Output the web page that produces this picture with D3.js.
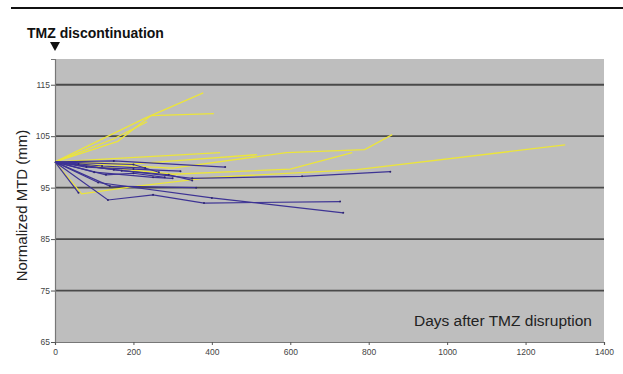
<!DOCTYPE html>
<html>
<head>
<meta charset="utf-8">
<script src="https://cdn.jsdelivr.net/npm/d3@7"></script>
<style>
body{margin:0;background:#fff;}
svg{display:block;font-family:"Liberation Sans",Arial,sans-serif;}
</style>
</head>
<body>
<div id="chart"></div>
<script>
// tick values
var yTicks=[65,75,85,95,105,115];
var xTicks=[0,200,400,600,800,1000,1200,1400];

// yellow series (days, normalized MTD)
var yellowSeries=[
    [[0,100],[230,108.5],[378,113.4]],
    [[0,100],[160,104],[245,109],[405,109.4]],
    [[0,100],[150,104.5],[235,107.8]],
    [[0,100],[421,101.8]],
    [[0,100],[200,99.6],[515,101.4]],
    [[0,100],[300,98.8],[590,101.8],[790,102.4],[860,105.3]],
    [[0,100],[300,97.6],[600,98.6],[758,101.8]],
    [[0,100],[68,93.8],[200,95.2],[400,97],[770,98.5],[1301,103.3]]
];

// blue series
var blueSeries=[
    [[0,100],[150,98.5],[350,96.8],[630,97.2],[855,98.1]],
    [[0,100],[135,92.6],[250,93.6],[380,92],[727,92.3]],
    [[0,100],[110,96],[400,93],[735,90.1]],
    [[0,100],[150,100.2],[434,99]],
    [[0,100],[60,94]],
    [[0,100],[140,95.3],[360,95]],
    [[0,100],[100,98],[250,97],[300,96.8]],
    [[0,100],[170,98.3],[290,97.5],[350,96.4]],
    [[0,100],[200,99.5],[265,98]],
    [[0,100],[130,97.5],[200,97.8],[280,97]],
    [[0,100],[80,99],[200,98.6],[320,98.2]],
    [[0,100],[60,99.6],[120,99.2],[230,98.8]]
];

var width=623,height=374;
var plot={left:55,top:59,right:604,bottom:342};

var svg=d3.select("#chart").append("svg")
    .attr("width",width).attr("height",height);

var x=d3.scaleLinear().domain([0,1400]).range([plot.left,plot.right]);
var y=d3.scaleLinear().domain([65,120]).range([plot.bottom,plot.top]);

// top rule
svg.append("line")
    .attr("x1",11).attr("x2",623).attr("y1",8).attr("y2",8)
    .attr("stroke","#111").attr("stroke-width",2);

svg.append("text")
    .attr("x",27).attr("y",38)
    .attr("font-size",14).attr("font-weight","bold").attr("fill","#111")
    .attr("font-family","Arial,'Liberation Sans',sans-serif")
    .text("TMZ discontinuation");

svg.append("path")
    .attr("d","M"+(x(0)-5)+",42L"+(x(0)+5)+",42L"+x(0)+",51Z")
    .attr("fill","#111");

// plot background
svg.append("rect")
    .attr("x",plot.left).attr("y",plot.top)
    .attr("width",plot.right-plot.left).attr("height",plot.bottom-plot.top)
    .attr("fill","#bebebe");

// gridlines
svg.append("g").selectAll("line").data(yTicks.slice(1)).join("line")
    .attr("x1",plot.left).attr("x2",plot.right)
    .attr("y1",function(d){return y(d);}).attr("y2",function(d){return y(d);})
    .attr("stroke","#4a4a4a").attr("stroke-width",1.8);

// axes
var yAxis=svg.append("g")
    .attr("transform","translate("+plot.left+",0)")
    .call(d3.axisLeft(y).tickValues(yTicks).tickSize(4).tickPadding(1));
var xAxis=svg.append("g")
    .attr("transform","translate(0,"+plot.bottom+")")
    .call(d3.axisBottom(x).tickValues(xTicks).tickFormat(d3.format("d"))
        .tickSize(3).tickPadding(4));

[yAxis,xAxis].forEach(function(a){
    a.select(".domain").attr("stroke","#777").attr("stroke-width",1.2);
    a.selectAll(".tick line").attr("stroke","#555");
    a.selectAll("text").attr("font-size",8.5).attr("fill","#444")
        .attr("font-family","'Liberation Sans Narrow',Arial,sans-serif");
});

var line=d3.line()
    .x(function(d){return x(d[0]);})
    .y(function(d){return y(d[1]);});

svg.append("g").selectAll("path").data(yellowSeries).join("path")
    .attr("d",line).attr("fill","none")
    .attr("stroke","#ece53a").attr("stroke-width",1.3);

svg.append("g").selectAll("path").data(blueSeries).join("path")
    .attr("d",line).attr("fill","none")
    .attr("stroke","#3d3394").attr("stroke-width",1.2);

// point markers along blue lines
svg.append("g").selectAll("circle")
    .data(blueSeries.flatMap(function(s){return s.slice(1);}))
    .join("circle")
    .attr("cx",function(d){return x(d[0]);}).attr("cy",function(d){return y(d[1]);})
    .attr("r",1).attr("fill","#2e2670");

// axis titles
svg.append("text")
    .attr("transform","translate(27,"+((plot.top+plot.bottom)/2+5)+") rotate(-90)")
    .attr("text-anchor","middle").attr("font-size",15).attr("fill","#222")
    .text("Normalized MTD (mm)");

svg.append("text")
    .attr("x",592).attr("y",326).attr("text-anchor","end")
    .attr("font-size",15.5).attr("fill","#222")
    .text("Days after TMZ disruption");
</script>
</body>
</html>
